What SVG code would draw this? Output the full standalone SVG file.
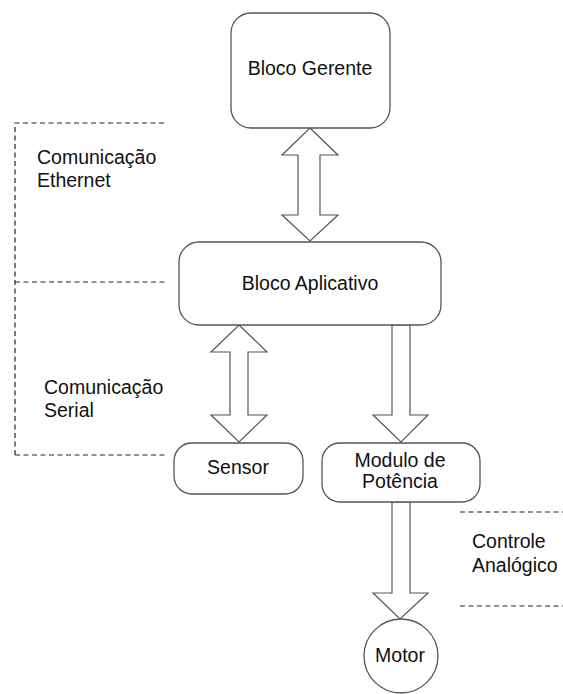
<svg xmlns="http://www.w3.org/2000/svg" width="563" height="694" viewBox="0 0 563 694">
<style>
.box{fill:#fff;stroke:#555;stroke-width:1.3}
.arr{fill:#fff;stroke:#555;stroke-width:1.2;stroke-linejoin:miter}
.dash{fill:none;stroke:#222;stroke-width:1.2;stroke-dasharray:5 3.5}
text{font-family:"Liberation Sans",Arial,sans-serif;font-size:19.5px;fill:#111}
.c{text-anchor:middle}
</style>
<rect width="563" height="694" fill="#fff"/>
<g id="regions">
<path class="dash" d="M15 455 V123 H166 M15 282 H166 M15 455 H166"/>
<path class="dash" d="M460 512 H563 M460 606 H563"/>
<text x="37" y="164">Comunicação</text>
<text x="37" y="187">Ethernet</text>
<text x="44" y="394">Comunicação</text>
<text x="44" y="417">Serial</text>
<text x="472" y="548">Controle</text>
<text x="472" y="572">Analógico</text>
</g>
<g id="connectors">
<path class="arr" d="M310 128 L338 155 H320 V215 H338 L310 241 L282 215 H298 V155 H282 Z"/>
<path class="arr" d="M239 325 L267 352 H248 V415 H267 L239 442 L211 415 H230 V352 H211 Z"/>
<path class="arr" d="M392 325 H410 V415 H428 L401 442 L373 415 H392 Z"/>
<path class="arr" d="M392 502 H410 V593 H428 L400 619 L373 593 H392 Z"/>
</g>
<g id="gerente">
<rect class="box" x="231" y="13" width="159" height="115" rx="20"/>
<text class="c" x="310" y="75">Bloco Gerente</text>
</g>
<g id="aplicativo">
<rect class="box" x="179" y="242" width="262" height="83" rx="20"/>
<text class="c" x="310" y="290">Bloco Aplicativo</text>
</g>
<g id="sensor">
<rect class="box" x="174" y="443" width="129" height="51" rx="18"/>
<text class="c" x="238" y="474">Sensor</text>
</g>
<g id="modulo">
<rect class="box" x="322" y="443" width="158" height="59" rx="18"/>
<text class="c" x="400" y="467">Modulo de</text>
<text class="c" x="400" y="488">Potência</text>
</g>
<g id="motor">
<circle class="box" cx="401" cy="656" r="37"/>
<text class="c" x="400" y="662">Motor</text>
</g>
</svg>
